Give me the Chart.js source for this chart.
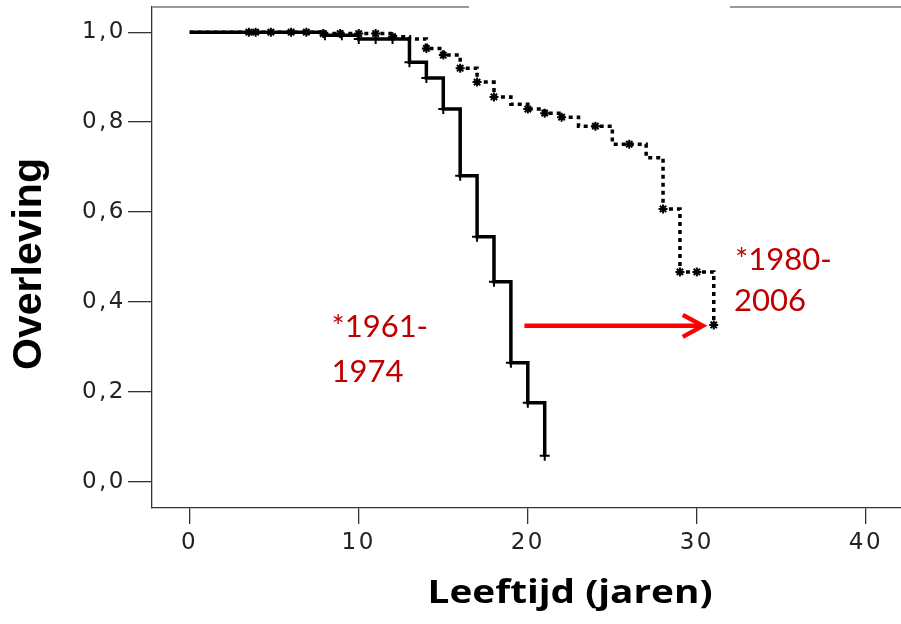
<!DOCTYPE html>
<html><head><meta charset="utf-8">
<script src="https://cdn.jsdelivr.net/npm/chart.js@4.4.1/dist/chart.umd.min.js"></script>
<style>
html,body{margin:0;padding:0;background:#fff;overflow:hidden;width:901px;height:624px}
#wrap{width:985px;height:624px;position:relative}
</style></head>
<body><div id="wrap"><canvas id="c" width="985" height="624"></canvas></div>
<script>
// Kaplan-Meier: 1961-1974 (solid)
const solidX = [0, 8, 10, 13, 14, 15, 16, 17, 18, 19, 20, 21];
const solidY = [1.0, 0.993, 0.985, 0.933, 0.898, 0.829, 0.681, 0.545, 0.445, 0.265, 0.176, 0.058];
const solidCensX = [8, 9, 10, 11, 12, 13, 14, 15, 16, 17, 18, 19, 20, 21];
const solidCensY = [0.993, 0.993, 0.985, 0.985, 0.985, 0.933, 0.898, 0.829, 0.681, 0.545, 0.445, 0.265, 0.176, 0.058];
// Kaplan-Meier: 1980-2006 (dotted)
const dottedX = [0, 8, 12, 13, 14, 15, 16, 17, 18, 19, 20, 21, 22, 23, 25, 27, 28, 29, 31];
const dottedY = [1.0, 0.997, 0.99, 0.985, 0.964, 0.949, 0.92, 0.889, 0.856, 0.84, 0.829, 0.82, 0.811, 0.791, 0.751, 0.721, 0.607, 0.467, 0.349];
const dottedCensX = [3.5, 3.9, 4.8, 6.0, 6.9, 7.9, 8.9, 10.0, 11.0, 12.0, 14, 15, 16, 17, 18, 20, 21, 22, 24, 26, 28, 29, 30, 31];
const dottedCensY = [1.0, 1.0, 1.0, 1.0, 1.0, 0.997, 0.997, 0.997, 0.997, 0.99, 0.964, 0.949, 0.92, 0.889, 0.856, 0.829, 0.82, 0.811, 0.791, 0.751, 0.607, 0.467, 0.467, 0.349];
// Axes
const xTicks = [0, 10, 20, 30, 40];
const yTicks = [0, 0.2, 0.4, 0.6, 0.8, 1.0];
const xTitle = 'Leeftijd (jaren)';
const yTitle = 'Overleving';
const labelA = ['*1961-', '1974'];
const labelB = ['*1980-', '2006'];

const pts = (xs, ys) => xs.map((x, i) => ({x: x, y: ys[i]}));

const decor = {
  id: 'decor',
  beforeDraw(chart) {
    chart.ctx.letterSpacing = '2.5px';
  },
  afterDraw(chart) {
    const ctx = chart.ctx, xs = chart.scales.x, ys = chart.scales.y, ca = chart.chartArea;
    ctx.save();
    ctx.letterSpacing = '0px';
    // top frame line (partially hidden in the original)
    ctx.strokeStyle = '#9a9a9a';
    ctx.lineWidth = 2;
    ctx.beginPath();
    ctx.moveTo(ca.left, ca.top); ctx.lineTo(469, ca.top);
    ctx.moveTo(730, ca.top); ctx.lineTo(ca.right, ca.top);
    ctx.stroke();
    // red arrow
    const ay = ys.getPixelForValue(0.347);
    const ax0 = xs.getPixelForValue(19.8), ax1 = xs.getPixelForValue(30.35);
    ctx.strokeStyle = '#ff0000';
    ctx.lineWidth = 4.5;
    ctx.lineCap = 'butt';
    ctx.beginPath();
    ctx.moveTo(ax0, ay); ctx.lineTo(ax1 - 2, ay);
    ctx.stroke();
    ctx.lineJoin = 'miter';
    ctx.beginPath();
    ctx.moveTo(ax1 - 20, ay - 11); ctx.lineTo(ax1, ay); ctx.lineTo(ax1 - 20, ay + 11);
    ctx.stroke();
    // red labels
    ctx.fillStyle = '#c00000';
    ctx.font = '31px Lato';
    ctx.textAlign = 'left';
    ctx.textBaseline = 'alphabetic';
    ctx.fillText(labelA[0], xs.getPixelForValue(8.39), ys.getPixelForValue(0.322));
    ctx.fillText(labelA[1], xs.getPixelForValue(8.39), ys.getPixelForValue(0.222));
    ctx.fillText(labelB[0], xs.getPixelForValue(32.26), ys.getPixelForValue(0.471));
    ctx.fillText(labelB[1], xs.getPixelForValue(32.2), ys.getPixelForValue(0.380));
    // x axis title, fitted to the width it has in the original
    ctx.fillStyle = '#000';
    ctx.font = 'bold 33px "Open Sans"';
    ctx.textAlign = 'center';
    const w = ctx.measureText(xTitle).width;
    ctx.save();
    ctx.translate(570, 603);
    ctx.scale(285 / w, 1);
    ctx.fillText(xTitle, 0, 0);
    ctx.restore();
    // y axis title
    ctx.translate(30, 264);
    ctx.rotate(-Math.PI / 2);
    ctx.font = 'bold 41px "Liberation Sans"';
    ctx.textBaseline = 'middle';
    ctx.fillText(yTitle, 0, 0);
    ctx.restore();
  }
};

new Chart(document.getElementById('c'), {
  type: 'scatter',
  data: {
    datasets: [
      {label: '1980-2006', data: pts(dottedX, dottedY), showLine: true, stepped: true,
       borderColor: '#000', borderWidth: 3.5, borderDash: [4, 4], pointRadius: 0, fill: false},
      {label: '1961-1974', data: pts(solidX, solidY), showLine: true, stepped: true,
       borderColor: '#000', borderWidth: 3.5, pointRadius: 0, fill: false},
      {label: 'censored 1961-1974', data: pts(solidCensX, solidCensY), showLine: false,
       pointStyle: 'cross', pointRadius: 5, borderColor: '#000', backgroundColor: '#000', borderWidth: 2},
      {label: 'censored 1980-2006', data: pts(dottedCensX, dottedCensY), showLine: false,
       pointStyle: 'star', pointRadius: 4.5, borderColor: '#000', backgroundColor: '#000', borderWidth: 2}
    ]
  },
  options: {
    responsive: false,
    animation: false,
    events: [],
    layout: {padding: {top: 7, left: 0, right: 0, bottom: 0}},
    plugins: {legend: {display: false}, tooltip: {enabled: false}, title: {display: false}},
    scales: {
      x: {
        type: 'linear', min: -2.229, max: 46.63,
        afterFit: s => { s.height = 116; s.paddingLeft = 0; s.paddingRight = 0; },
        afterBuildTicks: s => { s.ticks = xTicks.map(v => ({value: v})); },
        grid: {drawOnChartArea: false, drawTicks: true, tickLength: 16, color: '#333', lineWidth: 1.3},
        border: {display: true, color: '#333', width: 1.3},
        ticks: {font: {family: 'DejaVu Sans', size: 23}, color: '#222', padding: 5, maxRotation: 0,
                callback: v => String(v)}
      },
      y: {
        type: 'linear', min: -0.058, max: 1.056,
        afterFit: s => { s.width = 152; s.paddingTop = 0; s.paddingBottom = 0; },
        afterBuildTicks: s => { s.ticks = yTicks.map(v => ({value: v})); },
        grid: {drawOnChartArea: false, drawTicks: true, tickLength: 24, color: '#333', lineWidth: 1.3},
        border: {display: true, color: '#333', width: 1.3},
        ticks: {font: {family: 'DejaVu Sans', size: 23}, color: '#222', padding: 2,
                callback: v => v.toFixed(1).replace('.', ',')}
      }
    }
  },
  plugins: [decor]
});
</script>
</body></html>
